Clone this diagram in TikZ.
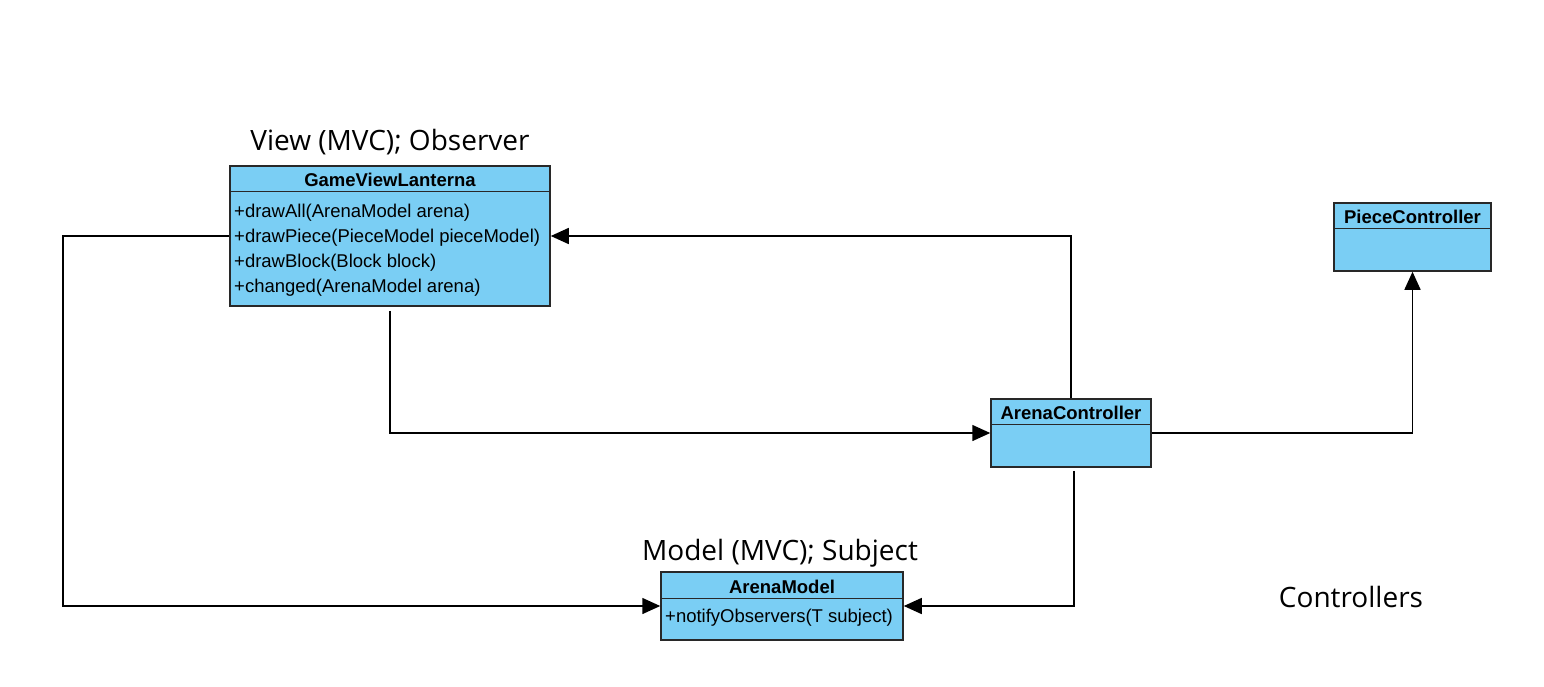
\documentclass[tikz,border=0pt]{standalone}
\usepackage{fontspec}
\setmainfont{Liberation Sans}
\newfontfamily\titlefont{Open Sans}
\usetikzlibrary{arrows.meta}
\definecolor{boxfill}{RGB}{122,206,244}
\definecolor{boxline}{RGB}{40,40,40}
\begin{document}
\begin{tikzpicture}[x=1pt,y=-1pt,
  umlbox/.style={draw=boxline,line width=1.5pt,fill=boxfill,rectangle,inner sep=0pt},
  hdr/.style={font=\fontsize{18.5}{20}\selectfont\bfseries,inner sep=0pt,anchor=base},
  mem/.style={font=\fontsize{18.5}{25}\selectfont,inner sep=0pt,anchor=base west},
  ttl/.style={font=\titlefont\fontsize{28}{32}\selectfont,inner sep=0pt,anchor=base},
  conn/.style={line width=1.5pt,black},
  arr/.style={conn,-{Triangle[length=18pt,width=16pt]}}]
\useasboundingbox (0,0) rectangle (1544,686);
% boxes
\node[umlbox,minimum width=320pt,minimum height=140pt] (gv) at (390,236) {};
\draw[boxline,line width=1.5pt] ([yshift=-26pt]gv.north west) -- ([yshift=-26pt]gv.north east);
\node[hdr] (gvh) at (390,186) {GameViewLanterna};
\node[mem] (gvm1) at (234,217) {+drawAll(ArenaModel arena)};
\node[mem] (gvm2) at (234,242) {+drawPiece(PieceModel pieceModel)};
\node[mem] (gvm3) at (234,267) {+drawBlock(Block block)};
\node[mem] (gvm4) at (234,292) {+changed(ArenaModel arena)};

\node[umlbox,minimum width=160pt,minimum height=68pt] (ac) at (1071,433) {};
\draw[boxline,line width=1.5pt] ([yshift=-26pt]ac.north west) -- ([yshift=-26pt]ac.north east);
\node[hdr] (ach) at (1071,419) {ArenaController};

\node[umlbox,minimum width=242pt,minimum height=68pt] (am) at (782,606) {};
\draw[boxline,line width=1.5pt] ([yshift=-27pt]am.north west) -- ([yshift=-27pt]am.north east);
\node[hdr] (amh) at (782,593) {ArenaModel};
\node[mem] (amm) at (665,622) {+notifyObservers(T subject)};

\node[umlbox,minimum width=157pt,minimum height=68pt] (pc) at (1412.5,237) {};
\draw[boxline,line width=1.5pt] ([yshift=-26pt]pc.north west) -- ([yshift=-26pt]pc.north east);
\node[hdr] (pch) at (1412.5,223) {PieceController};

% titles
\node[ttl] (t1) at (390,150) {View (MVC); Observer};
\node[ttl] (t2) at (780,560) {Model (MVC); Subject};
\node[ttl] (t3) at (1351,607) {Controllers};

% connectors
\coordinate (lft) at (63,0);
\draw[arr] (gv.west) -- (gv.west -| lft) |- (am.west);
\draw[arr] (ac.north) |- (gv.east);
\draw[arr] ([yshift=-4pt]gv.south) |- (ac.west);
\draw[arr] (ac.east) -| (pc.south);
\draw[arr] ([yshift=-3pt,xshift=3pt]ac.south) |- (am.east);
\end{tikzpicture}
\end{document}
